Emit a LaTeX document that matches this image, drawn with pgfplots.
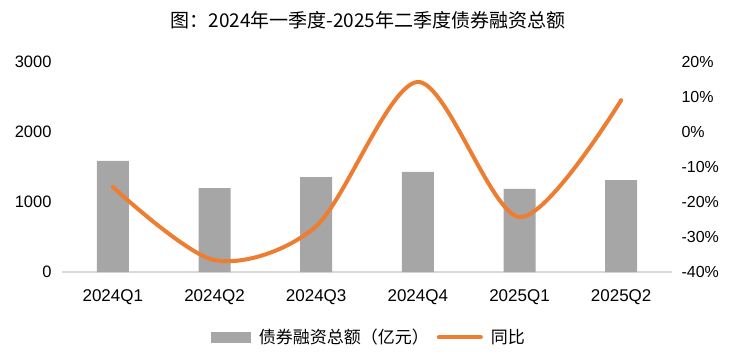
\documentclass[border=0pt]{standalone}
\usepackage{pgfplots}
\pgfplotsset{compat=1.18}
\usepackage{fontspec}
\setmainfont{Liberation Sans}
\newfontfamily\cjk{Noto Sans CJK SC}
\definecolor{barg}{RGB}{166,166,166}
\definecolor{lineor}{RGB}{237,125,49}
\definecolor{basel}{RGB}{217,217,217}
\begin{document}
\begin{tikzpicture}
\useasboundingbox (0,0) rectangle (739pt,357pt);
\node[font=\cjk\fontsize{19}{21}\selectfont, anchor=center] at (368pt,337pt) {图：2024年一季度-2025年二季度债券融资总额};
\begin{axis}[
  at={(62pt,85pt)}, anchor=south west,
  scale only axis, width=610pt, height=210pt,
  xmin=-0.5, xmax=5.5, ymin=0, ymax=3000,
  xtick={0,1,2,3,4,5},
  xticklabels={2024Q1,2024Q2,2024Q3,2024Q4,2025Q1,2025Q2},
  ytick={0,1000,2000,3000},
  axis x line*=bottom, axis y line*=left,
  x axis line style={draw=basel, line width=1.5pt, -},
  y axis line style={draw=none},
  major tick length=0pt,
  tick style={draw=none},
  /pgf/number format/assume math mode=true,
  /pgf/number format/1000 sep={},
  yticklabel style={font=\fontsize{16.5}{18}\selectfont, xshift=-7pt},
  xticklabel style={font=\fontsize{17}{19}\selectfont, yshift=-14pt},
  legend columns=2,
  legend style={draw=none, at={(0.503,-0.31)}, anchor=center, font=\cjk\fontsize{17}{19}\selectfont, column sep=6pt},
]
\addplot[ybar, bar width=32pt, fill=barg, draw=none, area legend,
  legend image code/.code={\fill[barg] (0pt,-5.5pt) rectangle (40pt,5.5pt);}]
  coordinates {(0,1586) (1,1200) (2,1357) (3,1429) (4,1186) (5,1314)};
\addlegendentry{债券融资总额（亿元）}
\addlegendimage{line legend, draw=lineor, line width=4pt, legend image code/.code={\draw[lineor, line width=4pt, line cap=round] (0pt,0pt) -- (42pt,0pt);}}
\addlegendentry{同比}
\end{axis}
\begin{axis}[
  at={(62pt,85pt)}, anchor=south west,
  scale only axis, width=610pt, height=210pt,
  xmin=-0.5, xmax=5.5, ymin=-40, ymax=20,
  ytick={-40,-30,...,20},
  axis y line*=right, axis x line=none,
  y axis line style={draw=none},
  major tick length=0pt, tick style={draw=none},
  /pgf/number format/assume math mode=true,
  yticklabel={\pgfmathprintnumber{\tick}\%},
  yticklabel style={font=\fontsize{16}{18}\selectfont, anchor=west, xshift=6pt},
]
\addplot[lineor, line width=4pt, smooth, tension=0.5, line cap=round]
  coordinates {(0,-15.7) (1,-36.6) (2,-26.9) (3,14.3) (4,-24.3) (5,9.1)};
\end{axis}
\end{tikzpicture}
\end{document}
